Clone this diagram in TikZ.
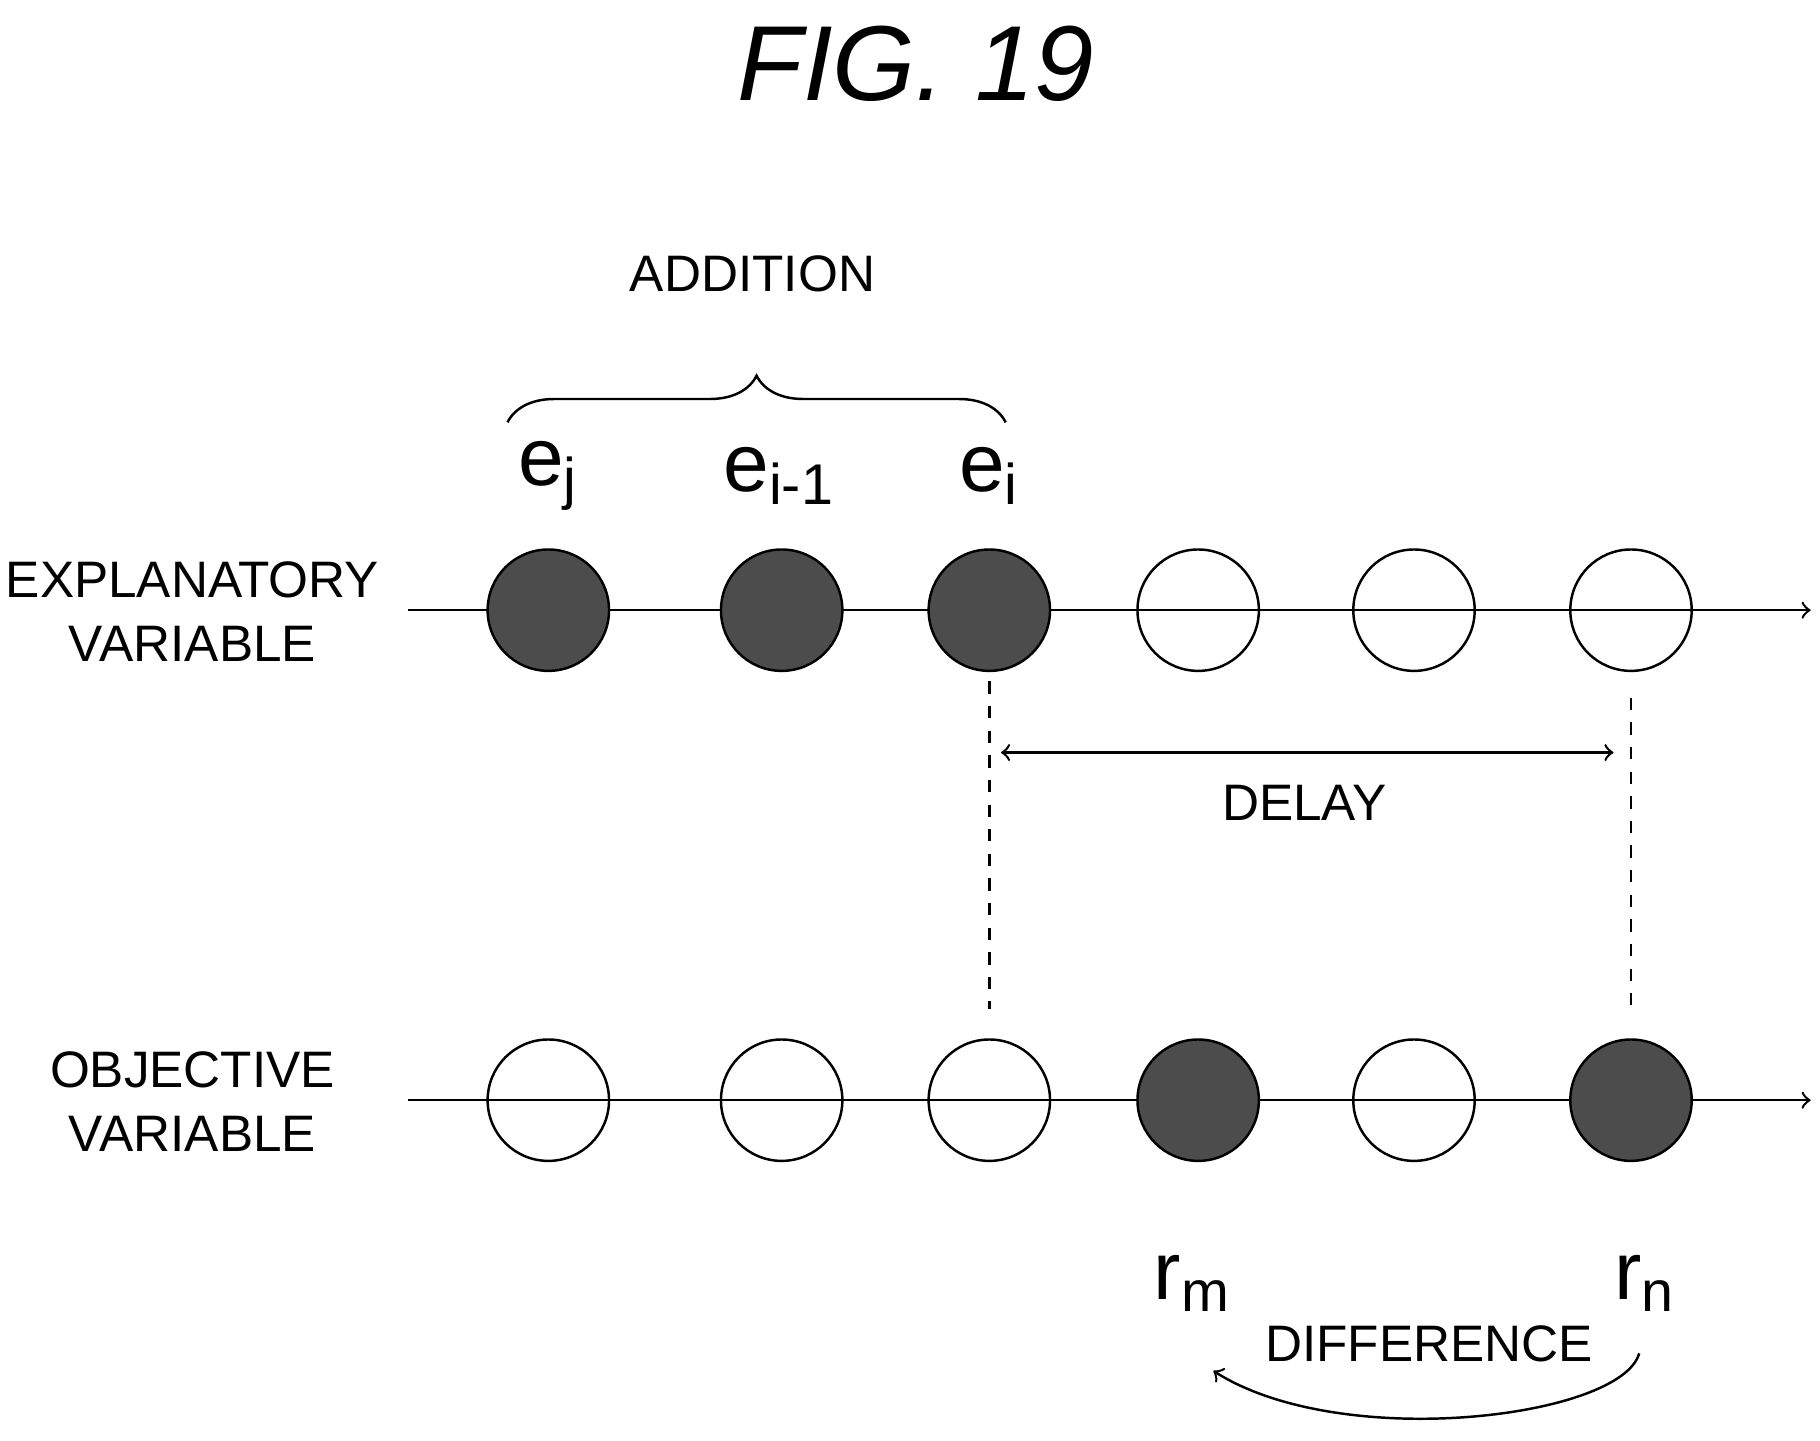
\documentclass[tikz,border=0pt]{standalone}
\usepackage{fontspec}
\setmainfont{Liberation Sans}
\usetikzlibrary{decorations.pathreplacing}
\usetikzlibrary{calc}
\tikzset{
  dot/.style={circle,draw=black,semithick,minimum size=1.04cm,inner sep=0pt},
  full/.style={dot,fill=black!70},
  lbl/.style={font=\fontsize{12.5}{15.5}\selectfont,align=center},
  sub/.style={font=\fontsize{20}{24}\selectfont},
}

\begin{document}
\begin{tikzpicture}[x=0.01cm,y=-0.01cm]
        \useasboundingbox (0,0) rectangle (1560,1235);
        \node[font=\itshape\fontsize{26}{30}\selectfont] (title) at (785,55){FIG. 19};

        % time lines
        \coordinate (top0) at (350,523);
        \coordinate (top1) at (1552,523);
        \coordinate (bot0) at (350,943);
        \coordinate (bot1) at (1552,943);
        \draw[semithick,->] (top0)--(top1);
        \draw[semithick,->] (bot0)--(bot1);

        \foreach \x/\n/\s in {470/1/full,670/2/full,848/3/full,1027/4/dot,1212/5/dot,1398/6/dot}
            \node[\s] (e\n) at (\x,523){};
        \foreach \x/\n/\s in {470/1/dot,670/2/dot,848/3/dot,1027/4/full,1212/5/dot,1398/6/full}
            \node[\s] (r\n) at (\x,943){};

        \node[lbl] (expl) at (165,524){EXPLANATORY\\VARIABLE};
        \node[lbl] (obj) at (165,944){OBJECTIVE\\VARIABLE};

        \node[sub] (ej) at (470,408){e\textsubscript{j}};
        \node[sub] (ei1) at (668,408){e\textsubscript{i-1}};
        \node[sub] (ei) at (848,408){e\textsubscript{i}};

        \draw[semithick,decorate,decoration={brace,amplitude=0.4cm}] (435,362)--(862,362);
        \node[lbl] (add) at (645,235){ADDITION};

        \coordinate (d1) at (848,865);
        \coordinate (d2) at (1398,865);
        \draw[semithick,dashed] ($(e3.south)+(0,8)$)--(d1);
        \draw[semithick,dashed] ($(e6.south)+(0,22)$)--(d2);
        \coordinate (a1) at (858,645);
        \coordinate (a2) at (1383,645);
        \draw[semithick,<->] (a1)--(a2);
        \node[lbl] (delay) at (1118,688){DELAY};

        \node[sub] (rm) at (1022,1100){r\textsubscript{m}};
        \node[sub] (rn) at (1410,1100){r\textsubscript{n}};
        \node[lbl] (diff) at (1225,1152){DIFFERENCE};
        \coordinate (c1) at (1405,1160);
        \coordinate (c2) at (1040,1175);
        \draw[semithick,->] (c1) .. controls (1390,1215) and (1150,1245) .. (c2);
    \end{tikzpicture}
\end{document}
